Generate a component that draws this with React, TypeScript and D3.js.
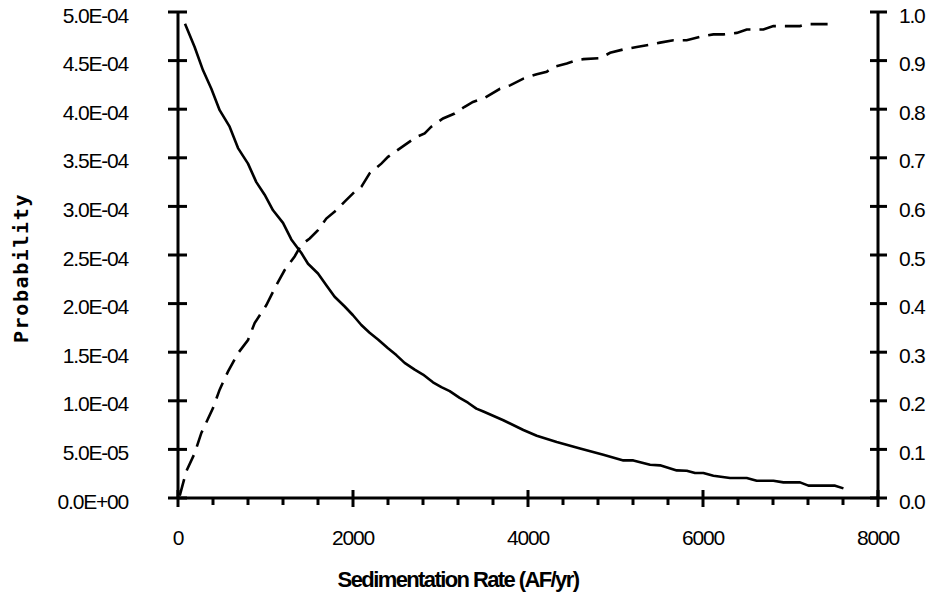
import * as d3 from "d3";

// Probability density (left axis) and cumulative probability (right axis)
const pdfX = [80, 190, 286, 381, 476, 590, 686, 800, 895, 990, 1086, 1200, 1295, 1410, 1486, 1600, 1695, 1790, 1905, 2000, 2095, 2190, 2286, 2400, 2495, 2590, 2705, 2800, 2914, 3010, 3105, 3219, 3314, 3410, 3490, 3718, 3947, 4100, 4328, 4595, 4861, 5090, 5204, 5395, 5509, 5700, 5814, 5909, 6004, 6119, 6309, 6500, 6614, 6804, 6919, 7109, 7205, 7510, 7605];
const pdfY = [4.88e-4, 4.64e-4, 4.4e-4, 4.21e-4, 3.99e-4, 3.82e-4, 3.6e-4, 3.44e-4, 3.25e-4, 3.12e-4, 2.96e-4, 2.83e-4, 2.66e-4, 2.52e-4, 2.41e-4, 2.31e-4, 2.19e-4, 2.07e-4, 1.97e-4, 1.88e-4, 1.78e-4, 1.7e-4, 1.63e-4, 1.54e-4, 1.47e-4, 1.39e-4, 1.32e-4, 1.27e-4, 1.19e-4, 1.14e-4, 1.1e-4, 1.03e-4, 0.98e-4, 0.92e-4, 0.89e-4, 0.8e-4, 0.7e-4, 0.64e-4, 0.575e-4, 0.51e-4, 0.445e-4, 0.387e-4, 0.387e-4, 0.342e-4, 0.336e-4, 0.284e-4, 0.281e-4, 0.257e-4, 0.257e-4, 0.229e-4, 0.205e-4, 0.205e-4, 0.178e-4, 0.178e-4, 0.161e-4, 0.161e-4, 0.127e-4, 0.127e-4, 0.099e-4];

const cdfX = [20, 95, 190, 267, 400, 476, 571, 686, 800, 876, 1010, 1124, 1219, 1333, 1410, 1505, 1600, 1695, 1810, 1905, 2019, 2095, 2190, 2324, 2400, 2590, 2724, 2819, 2895, 3029, 3162, 3276, 3371, 3509, 3680, 3795, 3947, 4100, 4214, 4290, 4443, 4557, 4633, 4824, 4938, 5090, 5243, 5395, 5509, 5662, 5814, 5967, 6119, 6233, 6386, 6500, 6690, 6804, 7109, 7186, 7510];
const cdfY = [0.005, 0.055, 0.092, 0.134, 0.185, 0.223, 0.26, 0.298, 0.325, 0.36, 0.397, 0.438, 0.469, 0.497, 0.521, 0.534, 0.551, 0.575, 0.592, 0.61, 0.63, 0.64, 0.668, 0.688, 0.702, 0.726, 0.743, 0.75, 0.764, 0.781, 0.791, 0.805, 0.815, 0.824, 0.842, 0.849, 0.863, 0.872, 0.877, 0.887, 0.894, 0.901, 0.903, 0.905, 0.916, 0.923, 0.928, 0.933, 0.937, 0.942, 0.942, 0.949, 0.954, 0.954, 0.957, 0.964, 0.964, 0.971, 0.971, 0.975, 0.975];

const xTicks = [0, 2000, 4000, 6000, 8000];
const leftTicks = d3.range(0, 11).map((i) => i * 0.5e-4);
const rightTicks = d3.range(0, 11).map((i) => i / 10);

const W = 929;
const H = 594;
const m = { left: 178, right: 878, top: 12, bottom: 498 };

const fmtLeft = (v: number) => {
  const [mant, exp] = v.toExponential(1).split("e");
  const e = parseInt(exp, 10);
  const sign = e < 0 || (v === 0 && false) ? "-" : "+";
  return `${mant}E${sign}${String(Math.abs(e)).padStart(2, "0")}`;
};

export default function App() {
  const x = d3.scaleLinear().domain([0, 8000]).range([m.left, m.right]);
  const yL = d3.scaleLinear().domain([0, 5e-4]).range([m.bottom, m.top]);
  const yR = d3.scaleLinear().domain([0, 1]).range([m.bottom, m.top]);

  const pdfLine = d3
    .line<number>()
    .x((_, i) => x(pdfX[i]))
    .y((d) => yL(d))(pdfY);
  const cdfLine = d3
    .line<number>()
    .x((_, i) => x(cdfX[i]))
    .y((d) => yR(d))(cdfY);

  const minor = d3.range(0, 8001, 400).filter((v) => v % 2000 !== 0);
  const tickFont = {
    fontFamily: "'Liberation Sans', Arial, sans-serif",
    fontSize: 21,
    letterSpacing: -1.2,
  };

  return (
    <svg
      width={W}
      height={H}
      style={{ position: "absolute", left: 0, top: 0, background: "#fff" }}
    >
      <g stroke="#000" strokeWidth={3} fill="none">
        <line x1={m.left} x2={m.right} y1={m.bottom} y2={m.bottom} />
        <line x1={m.left} x2={m.left} y1={m.top - 1} y2={m.bottom + 1} />
        <line x1={m.right} x2={m.right} y1={m.top - 1} y2={m.bottom + 1} />
        {xTicks.map((t) => (
          <line key={"xt" + t} x1={x(t)} x2={x(t)} y1={m.bottom - 8} y2={m.bottom + 9} />
        ))}
        {minor.map((t) => (
          <line key={"xm" + t} x1={x(t)} x2={x(t)} y1={m.bottom} y2={m.bottom + 7} />
        ))}
        {leftTicks.map((t, i) => (
          <line key={"lt" + i} x1={m.left - 10} x2={m.left + 9} y1={yL(t)} y2={yL(t)} />
        ))}
        {rightTicks.map((t, i) => (
          <line key={"rt" + i} x1={m.right - 8} x2={m.right + 9} y1={yR(t)} y2={yR(t)} />
        ))}
      </g>

      <path d={pdfLine ?? ""} fill="none" stroke="#000" strokeWidth={2.6} strokeLinejoin="round" />
      <path
        d={cdfLine ?? ""}
        fill="none"
        stroke="#000"
        strokeWidth={2.6}
        strokeDasharray="17 9"
      />

      <g {...tickFont} fill="#000">
        {leftTicks.map((t, i) => (
          <text key={"ll" + i} x={128} y={yL(t) + 10.5} textAnchor="end">
            {fmtLeft(t)}
          </text>
        ))}
        {rightTicks.map((t, i) => (
          <text key={"rl" + i} x={899} y={yR(t) + 10.5}>
            {t.toFixed(1)}
          </text>
        ))}
        {xTicks.map((t) => (
          <text key={"xl" + t} x={x(t)} y={545} textAnchor="middle">
            {t}
          </text>
        ))}
      </g>

      <text
        x={458}
        y={587}
        textAnchor="middle"
        fontFamily="'Liberation Sans', Arial, sans-serif"
        fontWeight="bold"
        fontSize={22}
        letterSpacing={-1.6}
      >
        Sedimentation Rate (AF/yr)
      </text>
      <text
        transform="translate(28,268) rotate(-90)"
        textAnchor="middle"
        fontFamily="'DejaVu Sans Mono', monospace"
        fontWeight="bold"
        fontSize={20}
        letterSpacing={1.6}
      >
        Probability
      </text>
    </svg>
  );
}
